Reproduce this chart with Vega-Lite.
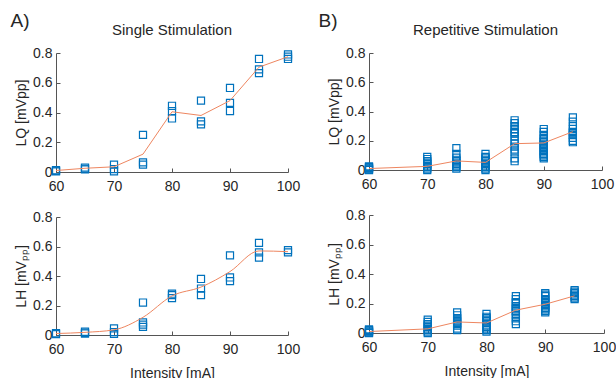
{
  "$schema": "https://vega.github.io/schema/vega-lite/v6.json",
  "background": "white",
  "padding": {"left": 10, "top": 12, "right": 5, "bottom": 0},
  "config": {
    "font": "Liberation Sans",
    "view": {"stroke": null},
    "axis": {
      "grid": false,
      "domainColor": "#555555",
      "tickColor": "#555555",
      "labelColor": "#262626",
      "titleColor": "#262626",
      "labelFontSize": 14,
      "titleFontSize": 14,
      "titleFontWeight": "normal",
      "tickSize": -4,
      "labelPadding": 8,
      "labelOverlap": false,
      "labelFlush": false
    },
    "axisX": {"labelPadding": 11, "titlePadding": 10},
    "title": {"fontSize": 15, "fontWeight": "normal", "color": "#262626", "offset": 8}
  },
  "datasets": {
    "pts": [
      {"p":"A_LQ","x":60,"y":0.012},{"p":"A_LQ","x":60,"y":0.008},{"p":"A_LQ","x":60,"y":0.004},
      {"p":"A_LQ","x":65,"y":0.03},{"p":"A_LQ","x":65,"y":0.022},{"p":"A_LQ","x":65,"y":0.018},
      {"p":"A_LQ","x":70,"y":0.05},{"p":"A_LQ","x":70,"y":0.02},{"p":"A_LQ","x":70,"y":0.005},
      {"p":"A_LQ","x":75,"y":0.25},{"p":"A_LQ","x":75,"y":0.065},{"p":"A_LQ","x":75,"y":0.05},
      {"p":"A_LQ","x":80,"y":0.445},{"p":"A_LQ","x":80,"y":0.41},{"p":"A_LQ","x":80,"y":0.36},
      {"p":"A_LQ","x":85,"y":0.48},{"p":"A_LQ","x":85,"y":0.34},{"p":"A_LQ","x":85,"y":0.32},
      {"p":"A_LQ","x":90,"y":0.565},{"p":"A_LQ","x":90,"y":0.465},{"p":"A_LQ","x":90,"y":0.41},
      {"p":"A_LQ","x":95,"y":0.76},{"p":"A_LQ","x":95,"y":0.69},{"p":"A_LQ","x":95,"y":0.665},
      {"p":"A_LQ","x":100,"y":0.79},{"p":"A_LQ","x":100,"y":0.775},{"p":"A_LQ","x":100,"y":0.76},

      {"p":"A_LH","x":60,"y":0.012},{"p":"A_LH","x":60,"y":0.006},
      {"p":"A_LH","x":65,"y":0.022},{"p":"A_LH","x":65,"y":0.015},{"p":"A_LH","x":65,"y":0.01},
      {"p":"A_LH","x":70,"y":0.045},{"p":"A_LH","x":70,"y":0.02},{"p":"A_LH","x":70,"y":0.008},
      {"p":"A_LH","x":75,"y":0.22},{"p":"A_LH","x":75,"y":0.085},{"p":"A_LH","x":75,"y":0.07},{"p":"A_LH","x":75,"y":0.055},
      {"p":"A_LH","x":80,"y":0.28},{"p":"A_LH","x":80,"y":0.27},{"p":"A_LH","x":80,"y":0.25},
      {"p":"A_LH","x":85,"y":0.38},{"p":"A_LH","x":85,"y":0.315},{"p":"A_LH","x":85,"y":0.27},
      {"p":"A_LH","x":90,"y":0.54},{"p":"A_LH","x":90,"y":0.39},{"p":"A_LH","x":90,"y":0.365},
      {"p":"A_LH","x":95,"y":0.625},{"p":"A_LH","x":95,"y":0.56},{"p":"A_LH","x":95,"y":0.525},
      {"p":"A_LH","x":100,"y":0.575},{"p":"A_LH","x":100,"y":0.56},

      {"p":"B_LQ","x":60,"y":0.0},{"p":"B_LQ","x":60,"y":0.005},{"p":"B_LQ","x":60,"y":0.01},{"p":"B_LQ","x":60,"y":0.015},{"p":"B_LQ","x":60,"y":0.02},{"p":"B_LQ","x":60,"y":0.025},
      {"p":"B_LQ","x":70,"y":0.09},{"p":"B_LQ","x":70,"y":0.075},{"p":"B_LQ","x":70,"y":0.06},{"p":"B_LQ","x":70,"y":0.05},{"p":"B_LQ","x":70,"y":0.04},{"p":"B_LQ","x":70,"y":0.03},{"p":"B_LQ","x":70,"y":0.02},{"p":"B_LQ","x":70,"y":0.01},{"p":"B_LQ","x":70,"y":0.0},
      {"p":"B_LQ","x":75,"y":0.15},{"p":"B_LQ","x":75,"y":0.11},{"p":"B_LQ","x":75,"y":0.085},{"p":"B_LQ","x":75,"y":0.07},{"p":"B_LQ","x":75,"y":0.06},{"p":"B_LQ","x":75,"y":0.05},{"p":"B_LQ","x":75,"y":0.04},{"p":"B_LQ","x":75,"y":0.03},{"p":"B_LQ","x":75,"y":0.02},{"p":"B_LQ","x":75,"y":0.01},
      {"p":"B_LQ","x":80,"y":0.11},{"p":"B_LQ","x":80,"y":0.09},{"p":"B_LQ","x":80,"y":0.08},{"p":"B_LQ","x":80,"y":0.07},{"p":"B_LQ","x":80,"y":0.06},{"p":"B_LQ","x":80,"y":0.05},{"p":"B_LQ","x":80,"y":0.04},{"p":"B_LQ","x":80,"y":0.03},{"p":"B_LQ","x":80,"y":0.02},{"p":"B_LQ","x":80,"y":0.01},{"p":"B_LQ","x":80,"y":0.0},
      {"p":"B_LQ","x":85,"y":0.34},{"p":"B_LQ","x":85,"y":0.32},{"p":"B_LQ","x":85,"y":0.3},{"p":"B_LQ","x":85,"y":0.28},{"p":"B_LQ","x":85,"y":0.26},{"p":"B_LQ","x":85,"y":0.25},{"p":"B_LQ","x":85,"y":0.23},{"p":"B_LQ","x":85,"y":0.2},{"p":"B_LQ","x":85,"y":0.18},{"p":"B_LQ","x":85,"y":0.16},{"p":"B_LQ","x":85,"y":0.14},{"p":"B_LQ","x":85,"y":0.12},{"p":"B_LQ","x":85,"y":0.08},{"p":"B_LQ","x":85,"y":0.06},
      {"p":"B_LQ","x":90,"y":0.28},{"p":"B_LQ","x":90,"y":0.26},{"p":"B_LQ","x":90,"y":0.24},{"p":"B_LQ","x":90,"y":0.22},{"p":"B_LQ","x":90,"y":0.21},{"p":"B_LQ","x":90,"y":0.2},{"p":"B_LQ","x":90,"y":0.19},{"p":"B_LQ","x":90,"y":0.18},{"p":"B_LQ","x":90,"y":0.17},{"p":"B_LQ","x":90,"y":0.16},{"p":"B_LQ","x":90,"y":0.15},{"p":"B_LQ","x":90,"y":0.14},{"p":"B_LQ","x":90,"y":0.13},{"p":"B_LQ","x":90,"y":0.12},{"p":"B_LQ","x":90,"y":0.11},{"p":"B_LQ","x":90,"y":0.1},{"p":"B_LQ","x":90,"y":0.09},{"p":"B_LQ","x":90,"y":0.08},
      {"p":"B_LQ","x":95,"y":0.36},{"p":"B_LQ","x":95,"y":0.33},{"p":"B_LQ","x":95,"y":0.3},{"p":"B_LQ","x":95,"y":0.28},{"p":"B_LQ","x":95,"y":0.26},{"p":"B_LQ","x":95,"y":0.25},{"p":"B_LQ","x":95,"y":0.24},{"p":"B_LQ","x":95,"y":0.22},{"p":"B_LQ","x":95,"y":0.2},{"p":"B_LQ","x":95,"y":0.19},

      {"p":"B_LH","x":60,"y":0.0},{"p":"B_LH","x":60,"y":0.005},{"p":"B_LH","x":60,"y":0.01},{"p":"B_LH","x":60,"y":0.015},{"p":"B_LH","x":60,"y":0.02},{"p":"B_LH","x":60,"y":0.025},
      {"p":"B_LH","x":70,"y":0.09},{"p":"B_LH","x":70,"y":0.075},{"p":"B_LH","x":70,"y":0.06},{"p":"B_LH","x":70,"y":0.05},{"p":"B_LH","x":70,"y":0.04},{"p":"B_LH","x":70,"y":0.03},{"p":"B_LH","x":70,"y":0.02},{"p":"B_LH","x":70,"y":0.01},{"p":"B_LH","x":70,"y":0.0},
      {"p":"B_LH","x":75,"y":0.14},{"p":"B_LH","x":75,"y":0.12},{"p":"B_LH","x":75,"y":0.1},{"p":"B_LH","x":75,"y":0.09},{"p":"B_LH","x":75,"y":0.08},{"p":"B_LH","x":75,"y":0.07},{"p":"B_LH","x":75,"y":0.06},{"p":"B_LH","x":75,"y":0.05},{"p":"B_LH","x":75,"y":0.03},{"p":"B_LH","x":75,"y":0.02},
      {"p":"B_LH","x":80,"y":0.13},{"p":"B_LH","x":80,"y":0.11},{"p":"B_LH","x":80,"y":0.1},{"p":"B_LH","x":80,"y":0.09},{"p":"B_LH","x":80,"y":0.08},{"p":"B_LH","x":80,"y":0.07},{"p":"B_LH","x":80,"y":0.05},{"p":"B_LH","x":80,"y":0.04},{"p":"B_LH","x":80,"y":0.03},{"p":"B_LH","x":80,"y":0.02},{"p":"B_LH","x":80,"y":0.01},
      {"p":"B_LH","x":85,"y":0.25},{"p":"B_LH","x":85,"y":0.23},{"p":"B_LH","x":85,"y":0.21},{"p":"B_LH","x":85,"y":0.2},{"p":"B_LH","x":85,"y":0.18},{"p":"B_LH","x":85,"y":0.17},{"p":"B_LH","x":85,"y":0.16},{"p":"B_LH","x":85,"y":0.15},{"p":"B_LH","x":85,"y":0.14},{"p":"B_LH","x":85,"y":0.12},{"p":"B_LH","x":85,"y":0.1},{"p":"B_LH","x":85,"y":0.08},{"p":"B_LH","x":85,"y":0.06},
      {"p":"B_LH","x":90,"y":0.27},{"p":"B_LH","x":90,"y":0.26},{"p":"B_LH","x":90,"y":0.25},{"p":"B_LH","x":90,"y":0.23},{"p":"B_LH","x":90,"y":0.22},{"p":"B_LH","x":90,"y":0.21},{"p":"B_LH","x":90,"y":0.2},{"p":"B_LH","x":90,"y":0.19},{"p":"B_LH","x":90,"y":0.18},{"p":"B_LH","x":90,"y":0.17},{"p":"B_LH","x":90,"y":0.16},{"p":"B_LH","x":90,"y":0.15},{"p":"B_LH","x":90,"y":0.14},
      {"p":"B_LH","x":95,"y":0.29},{"p":"B_LH","x":95,"y":0.28},{"p":"B_LH","x":95,"y":0.27},{"p":"B_LH","x":95,"y":0.26},{"p":"B_LH","x":95,"y":0.25},{"p":"B_LH","x":95,"y":0.24},{"p":"B_LH","x":95,"y":0.23}
    ],
    "lns": [
      {"p":"A_LQ","x":60,"y":0.01},{"p":"A_LQ","x":65,"y":0.025},{"p":"A_LQ","x":70,"y":0.035},{"p":"A_LQ","x":75,"y":0.12},{"p":"A_LQ","x":80,"y":0.405},{"p":"A_LQ","x":85,"y":0.38},{"p":"A_LQ","x":90,"y":0.48},{"p":"A_LQ","x":95,"y":0.705},{"p":"A_LQ","x":100,"y":0.775},
      {"p":"A_LH","x":60,"y":0.01},{"p":"A_LH","x":65,"y":0.018},{"p":"A_LH","x":70,"y":0.035},{"p":"A_LH","x":75,"y":0.12},{"p":"A_LH","x":80,"y":0.265},{"p":"A_LH","x":85,"y":0.325},{"p":"A_LH","x":90,"y":0.43},{"p":"A_LH","x":95,"y":0.57},{"p":"A_LH","x":100,"y":0.565},
      {"p":"B_LQ","x":60,"y":0.01},{"p":"B_LQ","x":70,"y":0.025},{"p":"B_LQ","x":75,"y":0.062},{"p":"B_LQ","x":80,"y":0.052},{"p":"B_LQ","x":85,"y":0.18},{"p":"B_LQ","x":90,"y":0.185},{"p":"B_LQ","x":95,"y":0.262},
      {"p":"B_LH","x":60,"y":0.01},{"p":"B_LH","x":70,"y":0.028},{"p":"B_LH","x":75,"y":0.075},{"p":"B_LH","x":80,"y":0.068},{"p":"B_LH","x":85,"y":0.155},{"p":"B_LH","x":90,"y":0.195},{"p":"B_LH","x":95,"y":0.252}
    ]
  },
  "spacing": 18,
  "hconcat": [
    {
      "title": {"text": "A)", "anchor": "start", "frame": "bounds", "fontSize": 19, "offset": -8, "dx": -4},
      "spacing": 17,
      "vconcat": [
        {
          "width": 232, "height": 119,
          "title": {"text": "Single Stimulation"},
          "encoding": {
            "x": {"field": "x", "type": "quantitative", "scale": {"domain": [60, 100]}, "axis": {"values": [60,70,80,90,100], "title": null}},
            "y": {"field": "y", "type": "quantitative", "scale": {"domain": [0, 0.8]}, "axis": {"values": [0,0.2,0.4,0.6,0.8], "format": "~g", "title": "LQ [mVpp]"}}
          },
          "layer": [
            {"data": {"name": "pts"}, "transform": [{"filter": "datum.p == 'A_LQ'"}],
             "mark": {"type": "point", "shape": "square", "size": 50, "filled": false, "color": "#0072BD", "strokeWidth": 1.2, "opacity": 1}},
            {"data": {"name": "lns"}, "transform": [{"filter": "datum.p == 'A_LQ'"}],
             "mark": {"type": "line", "color": "#EE8660", "strokeWidth": 1}}
          ]
        },
        {
          "width": 232, "height": 118,
          "encoding": {
            "x": {"field": "x", "type": "quantitative", "scale": {"domain": [60, 100]}, "axis": {"values": [60,70,80,90,100], "title": "Intensity [mA]"}},
            "y": {"field": "y", "type": "quantitative", "scale": {"domain": [0, 0.8]}, "axis": {"values": [0,0.2,0.4,0.6,0.8], "format": "~g", "title": "LH [mVₚₚ]"}}
          },
          "layer": [
            {"data": {"name": "pts"}, "transform": [{"filter": "datum.p == 'A_LH'"}],
             "mark": {"type": "point", "shape": "square", "size": 50, "filled": false, "color": "#0072BD", "strokeWidth": 1.2, "opacity": 1}},
            {"data": {"name": "lns"}, "transform": [{"filter": "datum.p == 'A_LH'"}],
             "mark": {"type": "line", "color": "#EE8660", "strokeWidth": 1, "interpolate": "monotone"}}
          ]
        }
      ]
    },
    {
      "title": {"text": "B)", "anchor": "start", "frame": "bounds", "fontSize": 19, "offset": -8, "dx": -9},
      "spacing": 17,
      "vconcat": [
        {
          "width": 233, "height": 117,
          "title": {"text": "Repetitive Stimulation"},
          "encoding": {
            "x": {"field": "x", "type": "quantitative", "scale": {"domain": [60, 100]}, "axis": {"values": [60,70,80,90,100], "title": null}},
            "y": {"field": "y", "type": "quantitative", "scale": {"domain": [0, 0.8]}, "axis": {"values": [0,0.2,0.4,0.6,0.8], "format": "~g", "title": "LQ [mVpp]"}}
          },
          "layer": [
            {"data": {"name": "pts"}, "transform": [{"filter": "datum.p == 'B_LQ'"}],
             "mark": {"type": "point", "shape": "square", "size": 50, "filled": false, "color": "#0072BD", "strokeWidth": 1.2, "opacity": 1}},
            {"data": {"name": "lns"}, "transform": [{"filter": "datum.p == 'B_LQ'"}],
             "mark": {"type": "line", "color": "#EE8660", "strokeWidth": 1}}
          ]
        },
        {
          "width": 235, "height": 118,
          "encoding": {
            "x": {"field": "x", "type": "quantitative", "scale": {"domain": [60, 100]}, "axis": {"values": [60,70,80,90,100], "title": "Intensity [mA]"}},
            "y": {"field": "y", "type": "quantitative", "scale": {"domain": [0, 0.8]}, "axis": {"values": [0,0.2,0.4,0.6,0.8], "format": "~g", "title": "LH [mVₚₚ]"}}
          },
          "layer": [
            {"data": {"name": "pts"}, "transform": [{"filter": "datum.p == 'B_LH'"}],
             "mark": {"type": "point", "shape": "square", "size": 50, "filled": false, "color": "#0072BD", "strokeWidth": 1.2, "opacity": 1}},
            {"data": {"name": "lns"}, "transform": [{"filter": "datum.p == 'B_LH'"}],
             "mark": {"type": "line", "color": "#EE8660", "strokeWidth": 1}}
          ]
        }
      ]
    }
  ]
}
